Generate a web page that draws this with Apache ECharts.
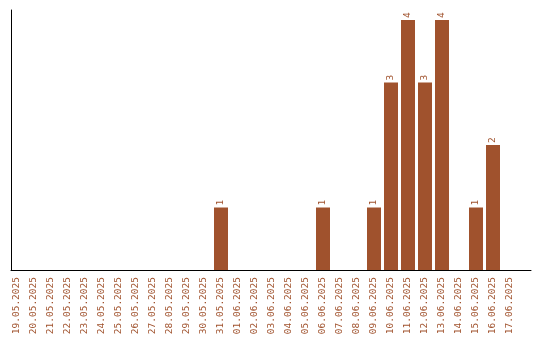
<!DOCTYPE html>
<html><head><meta charset="utf-8">
<script src="https://cdn.jsdelivr.net/npm/echarts@6/dist/echarts.min.js"></script>
<style>html,body{margin:0;padding:0;background:#fff}#c{width:540px;height:340px}</style>
</head><body><div id="c"></div>
<script>
const categories = ["19.05.2025","20.05.2025","21.05.2025","22.05.2025","23.05.2025","24.05.2025","25.05.2025","26.05.2025","27.05.2025","28.05.2025","29.05.2025","30.05.2025","31.05.2025","01.06.2025","02.06.2025","03.06.2025","04.06.2025","05.06.2025","06.06.2025","07.06.2025","08.06.2025","09.06.2025","10.06.2025","11.06.2025","12.06.2025","13.06.2025","14.06.2025","15.06.2025","16.06.2025","17.06.2025"];
const values = [0,0,0,0,0,0,0,0,0,0,0,0,1,0,0,0,0,0,1,0,0,1,3,4,3,4,0,1,2,0];
const color = '#a0522d';
const chart = echarts.init(document.getElementById('c'));
chart.setOption({
  animation: false,
  grid: [
    {left: 11, right: 9, top: 10, bottom: 70},
    {left: 8.5, width: 510, top: 10, bottom: 70}
  ],
  xAxis: [
    {gridIndex: 0, type: 'value', min: 0, max: 1, axisLine: {show: true, onZero: false, lineStyle: {color: '#000', width: 1}},
     axisTick: {show: false}, axisLabel: {show: false}, splitLine: {show: false}},
    {gridIndex: 1, type: 'category', data: categories,
     axisLine: {show: false}, axisTick: {show: false},
     axisLabel: {rotate: 90, interval: 0, color: color, fontFamily: 'DejaVu Sans Mono', fontSize: 9.5, margin: 7}}
  ],
  yAxis: [
    {gridIndex: 0, type: 'value', min: 0, max: 1, axisLine: {show: true, onZero: false, lineStyle: {color: '#000', width: 1}},
     axisTick: {show: false}, axisLabel: {show: false}, splitLine: {show: false}},
    {gridIndex: 1, type: 'value', min: 0, max: 4.16, axisLine: {show: false},
     axisTick: {show: false}, axisLabel: {show: false}, splitLine: {show: false}}
  ],
  series: [{
    type: 'bar', xAxisIndex: 1, yAxisIndex: 1,
    data: values.map(v => v === 0 ? null : v), barWidth: 14,
    itemStyle: {color: color},
    label: {show: true, position: 'top', rotate: 90, align: 'left', verticalAlign: 'middle', distance: 2, color: color, fontFamily: 'DejaVu Sans Mono', fontSize: 9.5}
  }]
});
</script></body></html>
